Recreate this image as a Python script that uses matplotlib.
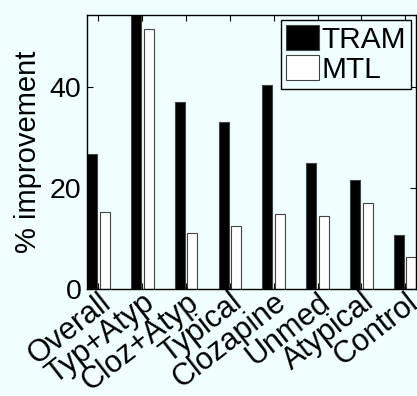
import matplotlib
matplotlib.use("Agg")
import matplotlib.pyplot as plt
import numpy as np

categories = ["Overall", "Typ+Atyp", "Cloz+Atyp", "Typical", "Clozapine",
              "Unmed", "Atypical", "Control"]
tram = [26.8, 54.3, 37.1, 33.1, 40.5, 25.1, 21.7, 10.75]
mtl = [15.3, 51.5, 11.1, 12.6, 14.9, 14.5, 17.0, 6.3]

plt.rcParams["font.family"] = ["Liberation Sans", "DejaVu Sans"]
bg = "#f0ffff"

fig = plt.figure(figsize=(4.17, 3.96), dpi=100, facecolor=bg)
ax = fig.add_axes([0.209, 0.2694, 0.7898, 0.6926], facecolor=bg)

x = np.arange(1, len(categories) + 1)
off = 0.1428
w = 0.2286
ax.bar(x - off, tram, w, color="k", edgecolor="#444444", lw=0.8, label="TRAM")
ax.bar(x + off, mtl, w, color="white", edgecolor="#444444", lw=0.8, label="MTL")

ax.set_xlim(1 - off - w / 2, len(categories) + off + w / 2)
ax.set_ylim(0, max(tram))
ax.set_yticks([0, 20, 40])
ax.set_xticks(x)
ax.set_xticklabels(categories, rotation=38, ha="right", rotation_mode="anchor",
                   fontsize=22)
ax.tick_params(axis="both", direction="in", length=4, width=0.8, top=True,
               right=True, pad=4)
ax.tick_params(axis="y", labelsize=20.5)
ax.tick_params(axis="x", pad=-1.5)
ax.set_ylabel("% improvement", fontsize=21, labelpad=6)
for s in ax.spines.values():
    s.set_linewidth(1.0)

leg = ax.legend(loc="upper right", fontsize=21.5, handlelength=1.09,
                handleheight=0.89, handletextpad=0.09, labelspacing=0.05,
                borderpad=0.17, borderaxespad=0.17, fancybox=False,
                framealpha=1, edgecolor="k")
leg.get_frame().set_facecolor(bg)
leg.get_frame().set_linewidth(1.0)

fig.savefig("out.png", dpi=100, facecolor=bg)
